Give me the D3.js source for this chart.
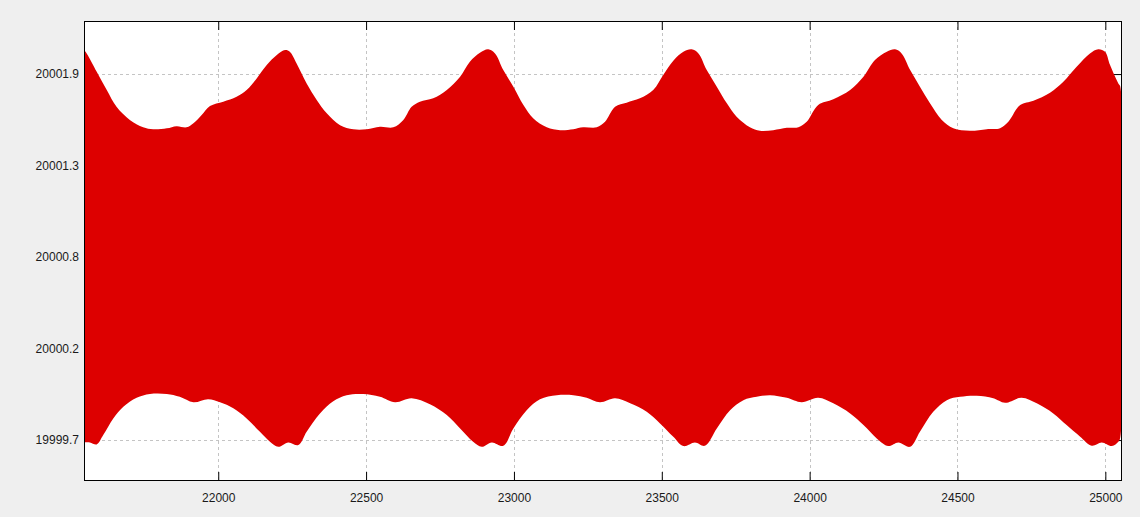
<!DOCTYPE html>
<html>
<head>
<meta charset="utf-8">
<script src="https://d3js.org/d3.v7.min.js"></script>
<style>
    body { margin: 0; background: #efefef; }
    .tick text { font-family: "Liberation Sans", Arial, sans-serif; font-size: 12px; fill: #1a1a1a; }
</style>
</head>
<body>
<svg id="chart"></svg>
<script>
// Upper envelope of the signal
var upperX = [21546, 21555, 21589, 21623, 21656, 21701, 21746, 21780, 21826, 21859,
    21893, 21916, 21944, 21972, 22017, 22062, 22096, 22130, 22164, 22198,
    22226, 22242, 22265, 22299, 22333, 22367, 22412, 22457, 22502, 22547,
    22592, 22626, 22654, 22682, 22727, 22773, 22818, 22851, 22885, 22913,
    22936, 22964, 22998, 23032, 23065, 23111, 23156, 23201, 23234, 23280,
    23308, 23342, 23381, 23426, 23471, 23505, 23539, 23573, 23601, 23624,
    23652, 23686, 23720, 23753, 23798, 23832, 23877, 23923, 23962, 23990,
    24029, 24080, 24137, 24182, 24221, 24261, 24289, 24311, 24340, 24373,
    24407, 24447, 24486, 24542, 24599, 24644, 24672, 24712, 24757, 24813,
    24858, 24903, 24948, 24976, 24999, 25016, 25044, 25050];
var upperY = [20002.044, 20002.024, 20001.914, 20001.804, 20001.703, 20001.624, 20001.580, 20001.568, 20001.574, 20001.587,
    20001.580, 20001.604, 20001.654, 20001.708, 20001.734, 20001.764, 20001.804, 20001.874, 20001.954, 20002.014,
    20002.044, 20002.034, 20001.964, 20001.844, 20001.744, 20001.664, 20001.593, 20001.568, 20001.568, 20001.583,
    20001.580, 20001.624, 20001.703, 20001.734, 20001.754, 20001.804, 20001.884, 20001.974, 20002.028, 20002.049,
    20002.024, 20001.924, 20001.824, 20001.714, 20001.634, 20001.580, 20001.563, 20001.569, 20001.580, 20001.580,
    20001.613, 20001.703, 20001.728, 20001.754, 20001.804, 20001.894, 20001.980, 20002.034, 20002.049, 20002.024,
    20001.924, 20001.824, 20001.724, 20001.643, 20001.580, 20001.559, 20001.563, 20001.577, 20001.580, 20001.613,
    20001.714, 20001.748, 20001.804, 20001.884, 20001.984, 20002.034, 20002.049, 20002.024, 20001.924, 20001.824,
    20001.724, 20001.624, 20001.574, 20001.559, 20001.569, 20001.574, 20001.613, 20001.714, 20001.740, 20001.788,
    20001.854, 20001.944, 20002.024, 20002.049, 20002.034, 20001.954, 20001.844, 20001.828];

// Lower envelope
var lowerX = [21546, 21566, 21589, 21611, 21645, 21679, 21724, 21769, 21826, 21870,
    21916, 21966, 22006, 22051, 22096, 22141, 22175, 22203, 22237, 22271,
    22299, 22344, 22389, 22434, 22490, 22547, 22598, 22654, 22716, 22773,
    22818, 22862, 22891, 22925, 22964, 22998, 23043, 23088, 23145, 23201,
    23246, 23291, 23342, 23393, 23449, 23494, 23539, 23573, 23612, 23646,
    23686, 23731, 23776, 23821, 23866, 23923, 23973, 24029, 24080, 24137,
    24182, 24227, 24266, 24300, 24340, 24373, 24418, 24464, 24509, 24565,
    24621, 24661, 24717, 24768, 24824, 24869, 24915, 24954, 24988, 25022,
    25044, 25050];
var lowerY = [19999.686, 19999.686, 19999.674, 19999.730, 19999.830, 19999.900, 19999.954, 19999.977, 19999.977, 19999.960,
    19999.927, 19999.946, 19999.927, 19999.891, 19999.830, 19999.750, 19999.690, 19999.660, 19999.686, 19999.670,
    19999.750, 19999.860, 19999.934, 19999.970, 19999.977, 19999.960, 19999.927, 19999.951, 19999.915, 19999.850,
    19999.770, 19999.690, 19999.660, 19999.686, 19999.666, 19999.770, 19999.880, 19999.946, 19999.970, 19999.970,
    19999.954, 19999.927, 19999.951, 19999.921, 19999.870, 19999.800, 19999.720, 19999.664, 19999.686, 19999.666,
    19999.770, 19999.880, 19999.940, 19999.960, 19999.970, 19999.954, 19999.927, 19999.954, 19999.921, 19999.860,
    19999.790, 19999.710, 19999.664, 19999.686, 19999.660, 19999.750, 19999.870, 19999.940, 19999.960, 19999.966,
    19999.951, 19999.924, 19999.954, 19999.921, 19999.860, 19999.790, 19999.720, 19999.666, 19999.686, 19999.664,
    19999.690, 19999.712];

// Tick values and labels
var xTicks = [22000, 22500, 23000, 23500, 24000, 24500, 25000];
var yTicks = [19999.7, 20000.25, 20000.8, 20001.35, 20001.9];
var yTickLabels = ["19999.7", "20000.2", "20000.8", "20001.3", "20001.9"];

// Size of the page and plot area
var width = 1140,
    height = 517,
    margin = { top: 21, right: 19, bottom: 36, left: 84 },
    plotW = width - margin.left - margin.right,
    plotH = height - margin.top - margin.bottom;

var x = d3.scaleLinear().domain([21546, 25053]).range([0, plotW]);
var y = d3.scaleLinear().domain([19999.454, 20002.219]).range([plotH, 0]);

var svg = d3.select("#chart")
    .attr("width", width)
    .attr("height", height)
    .append("g")
    .attr("transform", "translate(" + margin.left + "," + margin.top + ")");

svg.append("rect")
    .attr("width", plotW)
    .attr("height", plotH)
    .attr("fill", "#fff");

svg.append("clipPath").attr("id", "plot-clip")
    .append("rect")
    .attr("width", plotW)
    .attr("height", plotH);

// Dashed grid
svg.append("g").selectAll("line")
    .data(xTicks)
    .enter().append("line")
    .attr("x1", function (d) { return Math.round(x(d)) + 0.5; })
    .attr("x2", function (d) { return Math.round(x(d)) + 0.5; })
    .attr("y1", 0)
    .attr("y2", plotH)
    .attr("stroke", "#c4c4c4")
    .attr("stroke-dasharray", "3,3");

svg.append("g").selectAll("line")
    .data(yTicks)
    .enter().append("line")
    .attr("y1", function (d) { return Math.round(y(d)) + 0.5; })
    .attr("y2", function (d) { return Math.round(y(d)) + 0.5; })
    .attr("x1", 0)
    .attr("x2", plotW)
    .attr("stroke", "#c4c4c4")
    .attr("stroke-dasharray", "3,3");

// Axes, ticks pointing inward
function styleAxis(g) {
    g.select(".domain").remove();
    g.selectAll(".tick line").attr("stroke", "#000");
}

svg.append("g")
    .attr("transform", "translate(0," + plotH + ")")
    .call(d3.axisBottom(x).tickValues(xTicks).tickSize(-9).tickPadding(12).tickFormat(d3.format("d")))
    .call(styleAxis);

svg.append("g")
    .call(d3.axisTop(x).tickValues(xTicks).tickSize(-9).tickFormat(""))
    .call(styleAxis);

svg.append("g")
    .call(d3.axisLeft(y).tickValues(yTicks).tickSize(-9).tickPadding(5)
        .tickFormat(function (d, i) { return yTickLabels[i]; }))
    .call(styleAxis);

svg.append("g")
    .attr("transform", "translate(" + plotW + ",0)")
    .call(d3.axisRight(y).tickValues(yTicks).tickSize(-9).tickFormat(""))
    .call(styleAxis);

svg.selectAll(".tick text").attr("font-family", null).attr("font-size", null);

// Filled band between upper and lower envelope
var upper = upperX.map(function (v, i) { return [v, upperY[i]]; });
var lower = lowerX.map(function (v, i) { return [v, lowerY[i]]; }).reverse();

var line = d3.line()
    .x(function (d) { return x(d[0]); })
    .y(function (d) { return y(d[1]); })
    .curve(d3.curveCatmullRom);

svg.append("path")
    .attr("clip-path", "url(#plot-clip)")
    .attr("d", line(upper.concat(lower)) + "Z")
    .attr("fill", "#dd0000");

// Frame
svg.append("rect")
    .attr("x", 0.5)
    .attr("y", 0.5)
    .attr("width", plotW)
    .attr("height", plotH - 1)
    .attr("fill", "none")
    .attr("stroke", "#000");
</script>
</body>
</html>
